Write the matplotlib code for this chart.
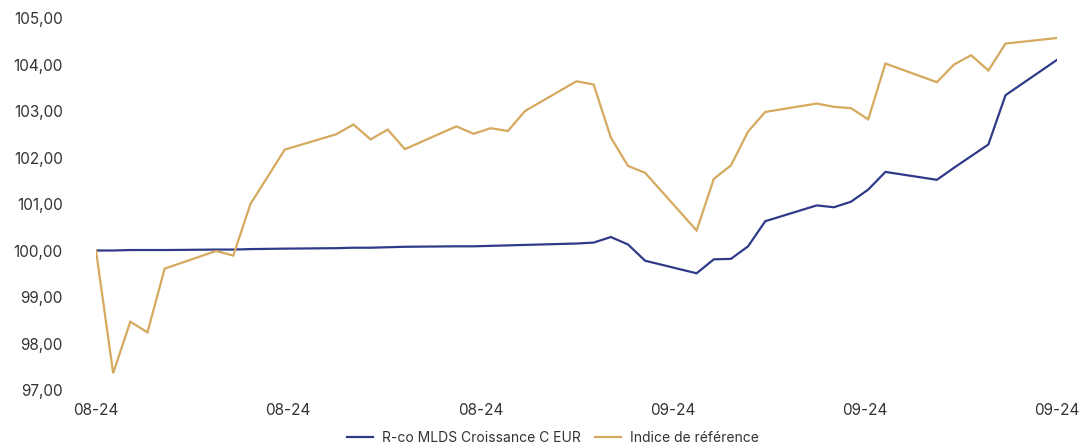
import matplotlib
matplotlib.use("Agg")
import matplotlib.pyplot as plt
import matplotlib.dates as mdates
import pandas as pd
import numpy as np

dates = ["2024-08-05", "2024-08-06", "2024-08-07", "2024-08-08", "2024-08-09",
         "2024-08-12", "2024-08-13", "2024-08-14", "2024-08-16",
         "2024-08-19", "2024-08-20", "2024-08-21", "2024-08-22", "2024-08-23",
         "2024-08-26", "2024-08-27", "2024-08-28", "2024-08-29", "2024-08-30",
         "2024-09-02", "2024-09-03", "2024-09-04", "2024-09-05", "2024-09-06",
         "2024-09-09", "2024-09-10", "2024-09-11", "2024-09-12", "2024-09-13",
         "2024-09-16", "2024-09-17", "2024-09-18", "2024-09-19", "2024-09-20",
         "2024-09-23", "2024-09-24", "2024-09-25", "2024-09-26", "2024-09-27",
         "2024-09-30"]

fund = [100.00, 100.00, 100.01, 100.01, 100.01,
        100.02, 100.02, 100.03, 100.04,
        100.05, 100.06, 100.06, 100.07, 100.08,
        100.09, 100.09, 100.10, 100.11, 100.12,
        100.15, 100.17, 100.29, 100.13, 99.78,
        99.51, 99.81, 99.82, 100.09, 100.63,
        100.97, 100.93, 101.05, 101.31, 101.69,
        101.52, 101.78, 102.03, 102.28, 103.34,
        104.10]

benchmark = [100.00, 97.36, 98.47, 98.24, 99.61,
             99.99, 99.89, 101.00, 102.17,
             102.50, 102.71, 102.39, 102.60, 102.18,
             102.67, 102.51, 102.63, 102.57, 103.00,
             103.64, 103.57, 102.43, 101.82, 101.67,
             100.43, 101.54, 101.83, 102.56, 102.98,
             103.16, 103.09, 103.06, 102.82, 104.02,
             103.62, 104.00, 104.20, 103.87, 104.45,
             104.57]

series_names = ["R-co MLDS Croissance C EUR", "Indice de référence"]
y_ticks = [97, 98, 99, 100, 101, 102, 103, 104, 105]

plt.rcParams['font.family'] = ['Inter', 'DejaVu Sans']

x = pd.to_datetime(dates)
W, H = 1080, 448
fig = plt.figure(figsize=(W / 100, H / 100), dpi=100)
left, right, top, bottom = 96, 1057, 18, 390
ax = fig.add_axes([left / W, 1 - bottom / H, (right - left) / W, (bottom - top) / H])

blue = "#2f3b88"
gold = "#d5a95e"
ax.plot(x, fund, color=blue, lw=1.6, label=series_names[0], solid_joinstyle="miter")
ax.plot(x, benchmark, color=gold, lw=1.6, label=series_names[1], solid_joinstyle="miter")

x0 = mdates.date2num(x[0])
x1 = mdates.date2num(x[-1])
ax.set_xlim(x0, x1)
ax.set_ylim(97, 105)
ax.set_xticks(np.linspace(x0, x1, 6))
ax.xaxis.set_major_formatter(mdates.DateFormatter('%m-%y'))
ax.set_yticks(y_ticks)
ax.set_yticklabels([f"{v:.2f}".replace(".", ",") for v in y_ticks])

for s in ax.spines.values():
    s.set_visible(False)
ax.tick_params(axis='both', length=0, labelsize=11, colors="#333333")
ax.tick_params(axis='y', pad=24)
ax.tick_params(axis='x', pad=9)
ax.set_facecolor("white")

leg = fig.legend(loc="center", bbox_to_anchor=(553 / W, 1 - 438 / H), ncol=2, frameon=False,
                 fontsize=10, handlelength=1.9, handletextpad=0.65, columnspacing=1.0,
                 labelcolor="#333333")

fig.savefig("out.png", dpi=100, facecolor="white")
